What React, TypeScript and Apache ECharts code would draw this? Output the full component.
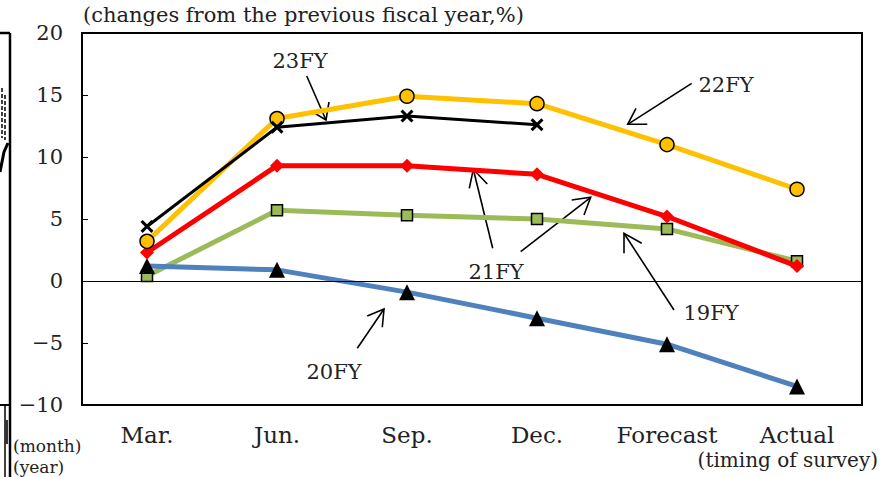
import React, { useEffect, useRef } from "react";
import * as echarts from "echarts";

const categories = ["Mar.", "Jun.", "Sep.", "Dec.", "Forecast", "Actual"];
const fy19 = [0.4, 5.7, 5.3, 5.0, 4.2, 1.6];
const fy20 = [1.2, 0.9, -0.9, -3.0, -5.1, -8.5];
const fy21 = [2.3, 9.3, 9.3, 8.6, 5.2, 1.2];
const fy22 = [3.2, 13.1, 14.9, 14.3, 11.0, 7.4];
const fy23 = [4.4, 12.4, 13.3, 12.6];
const yTicks = { min: -10, max: 20, interval: 5 };

const FONT = "DejaVu Serif";

const arrow = (x1: number, y1: number, x2: number, y2: number, w1: number[], w2: number[]) => [
  { type: "line", shape: { x1, y1, x2, y2 }, style: { stroke: "#000", lineWidth: 1.6 }, silent: true },
  {
    type: "polyline",
    shape: { points: [w1, [x2, y2], w2] },
    style: { stroke: "#000", lineWidth: 1.6, fill: null },
    silent: true,
  },
];

const annot = (text: string, x: number, y: number) => ({
  type: "text",
  x,
  y,
  style: { text, font: `21px "${FONT}"`, fill: "#222", align: "center", verticalAlign: "middle" },
  silent: true,
});

export default function App() {
  const ref = useRef<HTMLDivElement>(null);
  useEffect(() => {
    const chart = echarts.init(ref.current!, null, { renderer: "svg" });
    const xMark = "path://M0,2 L2,0 L6,4 L10,0 L12,2 L8,6 L12,10 L10,12 L6,8 L2,12 L0,10 L4,6 Z";
    chart.setOption({
      animation: false,
      backgroundColor: "#fff",
      grid: { left: 82, top: 33, width: 780, height: 372, show: true, borderColor: "#000", borderWidth: 2 },
      xAxis: {
        type: "category",
        data: categories,
        boundaryGap: true,
        axisLine: { onZero: false, lineStyle: { color: "#000", width: 2 } },
        axisTick: { show: false },
        axisLabel: { color: "#222", fontFamily: FONT, fontSize: 23, margin: 18, interval: 0 },
        splitLine: { show: false },
      },
      yAxis: {
        type: "value",
        min: yTicks.min,
        max: yTicks.max,
        interval: yTicks.interval,
        axisLine: { show: true, lineStyle: { color: "#000", width: 2 } },
        axisTick: { show: true, inside: true, length: 6, lineStyle: { color: "#000", width: 1 } },
        axisLabel: {
          color: "#222",
          fontFamily: FONT,
          fontSize: 21,
          margin: 19,
          formatter: (v: number) => String(v).replace("-", "\u2212"),
        },
        splitLine: { show: false },
      },
      series: [
        {
          name: "19FY",
          type: "line",
          data: fy19,
          symbol: "rect",
          symbolSize: 11,
          lineStyle: { color: "#9BBB59", width: 5 },
          itemStyle: { color: "#9BBB59", borderColor: "#000", borderWidth: 1.5 },
          z: 2,
          markLine: {
            silent: true,
            symbol: "none",
            label: { show: false },
            lineStyle: { color: "#000", width: 1, type: "solid" },
            data: [{ yAxis: 0 }],
          },
        },
        {
          name: "20FY",
          type: "line",
          data: fy20,
          symbol: "triangle",
          symbolSize: 16,
          lineStyle: { color: "#4F81BD", width: 5 },
          itemStyle: { color: "#000" },
          z: 3,
        },
        {
          name: "21FY",
          type: "line",
          data: fy21,
          symbol: "diamond",
          symbolSize: 14,
          lineStyle: { color: "#FF0000", width: 5 },
          itemStyle: { color: "#FF0000" },
          z: 4,
        },
        {
          name: "22FY",
          type: "line",
          data: fy22,
          symbol: "circle",
          symbolSize: 14,
          lineStyle: { color: "#FFC000", width: 5 },
          itemStyle: { color: "#FFC000", borderColor: "#000", borderWidth: 1.5 },
          z: 5,
        },
        {
          name: "23FY",
          type: "line",
          data: fy23,
          symbol: xMark,
          symbolSize: 13,
          lineStyle: { color: "#000", width: 3 },
          itemStyle: { color: "#000" },
          z: 6,
        },
      ],
      graphic: [
        {
          type: "text",
          left: 83,
          top: 4,
          style: { text: "(changes from the previous fiscal year,%)", font: `21px "${FONT}"`, fill: "#222" },
        },
        {
          type: "text",
          right: 9,
          top: 450,
          style: { text: "(timing of survey)", font: `20px "${FONT}"`, fill: "#222" },
        },
        annot("23FY", 300, 61),
        annot("22FY", 726, 85),
        annot("21FY", 496, 272),
        annot("19FY", 711, 313),
        annot("20FY", 334, 372),
        ...arrow(306.7, 76, 326, 120, [311, 111], [329, 102]),
        ...arrow(691.7, 83.3, 627.7, 124.3, [636, 108.3], [647.3, 124.3]),
        ...arrow(492.7, 248.3, 473.3, 169.3, [469.3, 188.3], [487.3, 184]),
        ...arrow(520.7, 251.7, 590.7, 197.3, [571.7, 200], [584, 215]),
        ...arrow(674, 310, 624, 233.3, [624, 253.3], [641.7, 243.3]),
        ...arrow(357.3, 348.3, 384, 309, [367.3, 316], [382.3, 327.3]),
        // left fragment of neighbouring chart
        { type: "line", shape: { x1: 10, y1: 33, x2: 10, y2: 477 }, style: { stroke: "#000", lineWidth: 2.5 }, silent: true },
        { type: "line", shape: { x1: 0, y1: 33, x2: 10, y2: 33 }, style: { stroke: "#000", lineWidth: 2.5 }, silent: true },
        { type: "line", shape: { x1: 0, y1: 405, x2: 10, y2: 405 }, style: { stroke: "#000", lineWidth: 2 }, silent: true },
        { type: "line", shape: { x1: 2, y1: 88, x2: 2, y2: 138 }, style: { stroke: "#000", lineWidth: 1.5, lineDash: [4, 2] }, silent: true },
        { type: "line", shape: { x1: 5, y1: 95, x2: 5, y2: 140 }, style: { stroke: "#000", lineWidth: 1.5, lineDash: [4, 2] }, silent: true },
        { type: "polyline", shape: { points: [[0, 172], [4, 152], [8, 143]] }, style: { stroke: "#000", lineWidth: 3, fill: null }, silent: true },
        { type: "line", shape: { x1: 5, y1: 405, x2: 5, y2: 477 }, style: { stroke: "#000", lineWidth: 1.5 }, silent: true },
        { type: "rect", shape: { x: 5, y: 420, width: 3, height: 24 }, style: { fill: "#333" }, silent: true },
        { type: "text", left: 13, top: 437, style: { text: "(month)", font: `17px "${FONT}"`, fill: "#222" } },
        { type: "text", left: 13, top: 458, style: { text: "(year)", font: `17px "${FONT}"`, fill: "#222" } },
      ],
    });
    return () => chart.dispose();
  }, []);
  return <div ref={ref} style={{ width: 887, height: 477, position: "absolute", left: 0, top: 0 }} />;
}
